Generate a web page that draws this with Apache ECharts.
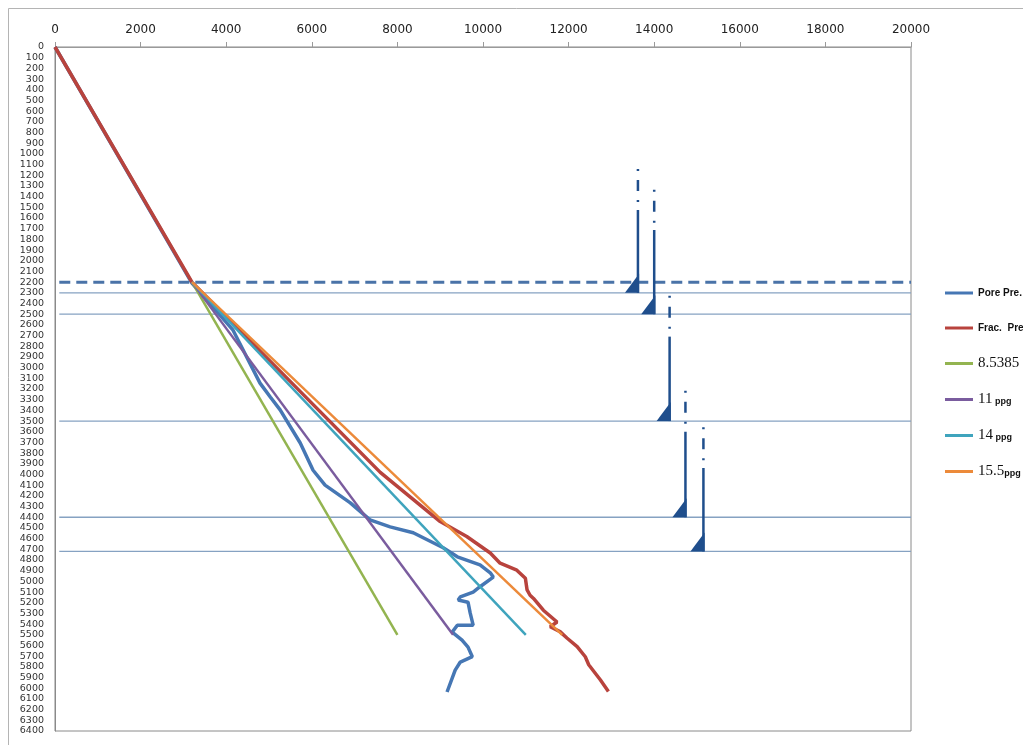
<!DOCTYPE html>
<html><head><meta charset="utf-8">
<script src="https://cdn.jsdelivr.net/npm/echarts@6/dist/echarts.min.js"></script>
<style>html,body{margin:0;padding:0;background:#fff}#c{width:1023px;height:745px}</style>
</head><body><div id="c"></div>
<script>
// ---- data (x = pressure, y = depth) ----
const porePressure = [[0,0],[3200,2210],[4160,2650],[4790,3145],[5030,3275],[5260,3395],[5730,3705],[6030,3960],[6310,4100],[6900,4265],[7360,4425],[7830,4490],[8370,4545],[9070,4685],[9400,4770],[9930,4845],[10170,4920],[10240,4960],[9930,5050],[9770,5100],[9470,5145],[9420,5175],[9650,5195],[9700,5295],[9770,5410],[9400,5410],[9280,5475],[9510,5550],[9650,5615],[9750,5705],[9470,5755],[9350,5830],[9160,6035]];
const fracPressure = [[0,0],[3200,2200],[7600,3980],[9000,4440],[9620,4580],[10170,4735],[10400,4830],[10790,4895],[10990,4970],[11030,5080],[11100,5130],[11180,5160],[11410,5270],[11730,5380],[11570,5425],[11800,5470],[11960,5530],[12200,5610],[12390,5705],[12470,5780],[12740,5920],[12930,6030]];
const mw85 = [[3200,2200],[8000,5500]];
const mw11 = [[3200,2200],[9300,5500]];
const mw14 = [[3200,2200],[11000,5500]];
const mw155 = [[3200,2200],[11850,5500]];
const seriesNames = ['Pore Pre.', 'Frac.  Pre', '8.5385', '11 ppg', '14 ppg', '15.5ppg'];
// casing shoes
const shoeX = [13620, 14000, 14360, 14730, 15150];
const shoeTop = [1141, 1335, 2327, 3216, 3558];
const shoeSolidTop = [1525, 1712, 2710, 3600, 3939];
const shoeDepth = [2300, 2500, 3500, 4400, 4720];
const dashedDepth = 2200;
const lineStartX = 100, lineEndX = 20000;

// ---- styles ----
const colors = ['#4677b4', '#b8433d', '#93b450', '#7a5c9e', '#3fa4bd', '#ec8a3a'];
const widths = [3.5, 3.5, 2.5, 2.5, 2.5, 2.5];
const shoeColor = '#1f4e8c';

const curves = [porePressure, fracPressure, mw85, mw11, mw14, mw155];
const series = curves.map((d, i) => ({
  name: seriesNames[i], type: 'line', data: d, showSymbol: false, symbol: 'none',
  lineStyle: { color: colors[i], width: widths[i] }, itemStyle: { color: colors[i] },
  z: 3 + i, animation: false
}));
shoeDepth.forEach((dep) => {
  series.push({ type: 'line', data: [[lineStartX, dep], [lineEndX, dep]], symbol: 'none', silent: true,
    lineStyle: { color: '#86a2c2', width: 1.3 }, z: 2, animation: false });
});
series.push({ type: 'line', data: [[lineStartX, dashedDepth], [lineEndX, dashedDepth]], symbol: 'none', silent: true,
  lineStyle: { color: '#4a73a8', width: 3, type: [11, 6] }, z: 2, animation: false });
series.push({
  type: 'custom', silent: true, z: 10, animation: false,
  data: shoeX.map((x, i) => [x, shoeTop[i], shoeSolidTop[i], shoeDepth[i]]),
  encode: { x: 0, y: [1, 2, 3] },
  renderItem: function (params, api) {
    const x = api.value(0);
    const pT = api.coord([x, api.value(1)]);
    const pS = api.coord([x, api.value(2)]);
    const pB = api.coord([x, api.value(3)]);
    return { type: 'group', children: [
      { type: 'line', shape: { x1: pT[0], y1: pT[1], x2: pS[0], y2: pS[1] },
        style: { stroke: shoeColor, lineWidth: 2.5, lineDash: [2, 9, 11, 9, 2, 80] } },
      { type: 'line', shape: { x1: pS[0], y1: pS[1], x2: pB[0], y2: pB[1] },
        style: { stroke: shoeColor, lineWidth: 2.5 } },
      { type: 'polygon', shape: { points: [[pB[0] - 13, pB[1]], [pB[0] + 1.2, pB[1]], [pB[0] + 1.2, pB[1] - 19]] },
        style: { fill: shoeColor } }
    ]};
  }
});

const chart = echarts.init(document.getElementById('c'));
chart.setOption({
  backgroundColor: '#fff',
  animation: false,
  graphic: [{ type: 'rect', shape: { x: 8.5, y: 8.5, width: 1100, height: 800 },
    style: { fill: 'none', stroke: '#b4b4b4', lineWidth: 1 }, z: -10 }],
  grid: { left: 55, top: 47, right: 112, bottom: 14, show: true, borderColor: '#8a8a8a', borderWidth: 1 },
  legend: {
    orient: 'vertical', left: 940, top: 281, itemGap: 21, itemWidth: 28, itemHeight: 3,
    icon: 'rect', data: seriesNames, selectedMode: false,
    textStyle: { color: '#111', lineHeight: 14,
      rich: {
        s: { fontFamily: 'Liberation Sans, Arial', fontWeight: 'bold', fontSize: 10, lineHeight: 14, color: '#111' },
        n: { fontFamily: 'Liberation Serif, serif', fontSize: 15, lineHeight: 14, color: '#111' },
        u: { fontFamily: 'Liberation Sans, Arial', fontWeight: 'bold', fontSize: 9, lineHeight: 10, verticalAlign: 'bottom', color: '#111' }
      } },
    formatter: function (name) {
      if (name === 'Pore Pre.' || name === 'Frac.  Pre') return '{s|' + name + '}';
      if (name === '8.5385') return '{n|8.5385}';
      const m = name.match(/^([\d.]+)(\s?)(ppg)$/);
      return '{n|' + m[1] + '}' + (m[2] ? '{u| }' : '') + '{u|ppg}';
    }
  },
  xAxis: {
    type: 'value', position: 'top', min: 0, max: 20000, interval: 2000,
    axisLine: { show: true, lineStyle: { color: '#9a9a9a', width: 1 } },
    axisTick: { show: true, inside: false, length: 5, lineStyle: { color: '#9a9a9a' } },
    axisLabel: { fontFamily: 'DejaVu Sans', fontSize: 12, color: '#222', margin: 11, formatter: (v) => String(v) },
    splitLine: { show: false }
  },
  yAxis: {
    type: 'value', inverse: true, min: 0, max: 6400, interval: 100,
    axisLine: { show: true, lineStyle: { color: '#8a8a8a', width: 1 } },
    axisTick: { show: false },
    axisLabel: { fontFamily: 'DejaVu Sans', fontSize: 9.5, color: '#333', margin: 11, formatter: (v) => String(v) },
    splitLine: { show: false }
  },
  series: series
});
</script>
</body></html>
